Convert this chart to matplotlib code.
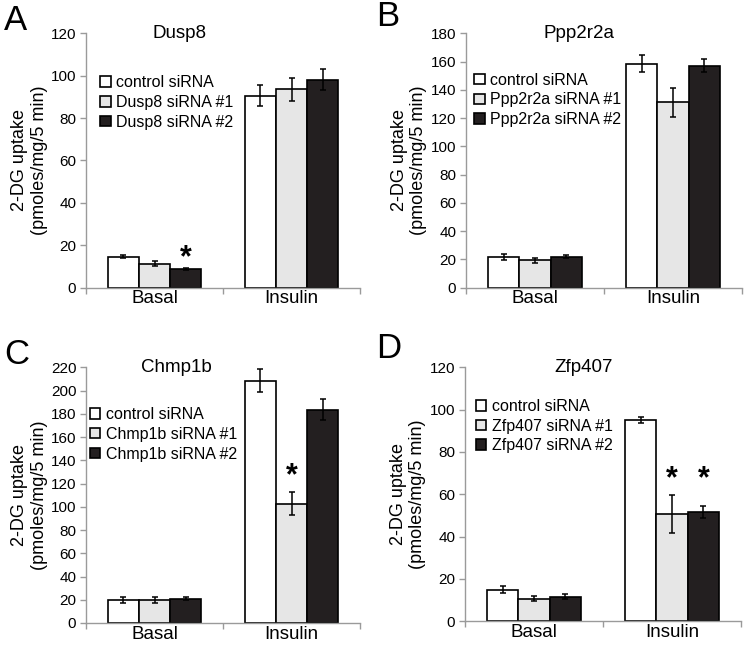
import numpy as np
import matplotlib
matplotlib.use('Agg')
import matplotlib.pyplot as plt
from matplotlib.patches import Patch

plt.rcParams['font.family'] = ['Liberation Sans', 'DejaVu Sans']

conditions = ['Basal', 'Insulin']
fills = ['white', '#e6e6e6', '#231f20']

# panel A - Dusp8
dusp8_means = [[14.5, 11.3, 8.8], [90.5, 93.5, 98.0]]
dusp8_errs = [[0.8, 1.2, 0.5], [5.0, 5.3, 5.0]]
# panel B - Ppp2r2a
ppp2r2a_means = [[21.7, 19.4, 21.7], [158.5, 131.0, 157.0]]
ppp2r2a_errs = [[2.0, 1.8, 1.0], [6.0, 10.0, 4.5]]
# panel C - Chmp1b
chmp1b_means = [[20.0, 20.0, 21.0], [208.5, 102.5, 183.5]]
chmp1b_errs = [[2.5, 2.5, 1.0], [10.0, 10.0, 9.0]]
# panel D - Zfp407
zfp407_means = [[15.0, 10.7, 11.5], [95.0, 50.7, 51.7]]
zfp407_errs = [[1.5, 1.3, 1.2], [1.5, 9.0, 3.0]]

panels = [
    ('A', 'Dusp8', dusp8_means, dusp8_errs, 120, 20, [(0, 2, 14)]),
    ('B', 'Ppp2r2a', ppp2r2a_means, ppp2r2a_errs, 180, 20, []),
    ('C', 'Chmp1b', chmp1b_means, chmp1b_errs, 220, 20, [(1, 1, 126)]),
    ('D', 'Zfp407', zfp407_means, zfp407_errs, 120, 20, [(1, 1, 67), (1, 2, 67)]),
]

# axes boxes in pixels: left, right, top, bottom
boxes = [(86, 360, 33.3, 287.5), (466, 742, 33.3, 287.5),
         (86, 360, 367.3, 623), (465, 741, 367.3, 621.3)]
title_x = [0.34, 0.41, 0.33, 0.43]
legend_pos = [(0.052, 0.836), (0.03, 0.845), (0.015, 0.845), (0.04, 0.876)]
letter_pos = [(4, 20), (376, 17), (4, 355), (376, 349)]

W, H = 744, 646
fig = plt.figure(figsize=(W / 100, H / 100), dpi=100)
spine_col = '#9a9a9a'
bw = 0.227

for k, (letter, gene, means, errs, ymax, step, stars) in enumerate(panels):
    l, r, t, b = boxes[k]
    ax = fig.add_axes([l / W, 1 - b / H, (r - l) / W, (b - t) / H])
    means = np.array(means)
    errs = np.array(errs)
    x = np.arange(len(conditions))
    labels = ['control siRNA', gene + ' siRNA #1', gene + ' siRNA #2']
    for i in range(3):
        ax.bar(x + (i - 1) * bw, means[:, i], bw, color=fills[i],
               edgecolor='black', linewidth=1.2, zorder=2)
        ax.errorbar(x + (i - 1) * bw, means[:, i], yerr=errs[:, i], fmt='none',
                    ecolor='black', elinewidth=1.1, capsize=2.5, capthick=1.1, zorder=3)
    for (g, i, y) in stars:
        ax.text(x[g] + (i - 1) * bw, y, '*', ha='center', va='center',
                fontsize=22, fontweight='bold')

    ax.set_xlim(-0.5, 1.5)
    ax.set_ylim(0, ymax)
    ax.set_yticks(np.arange(0, ymax + 1, step))
    ax.set_xticks(x)
    ax.set_xticklabels(conditions, fontsize=13.5)
    ax.set_xticks([-0.5, 0.5, 1.5], minor=True)
    ax.tick_params(axis='x', which='major', length=0, pad=2)
    ax.tick_params(axis='x', which='minor', length=4, color=spine_col, width=1)
    ax.tick_params(axis='y', length=4, color=spine_col, width=1, labelsize=11, pad=3)
    for s in ['top', 'right']:
        ax.spines[s].set_visible(False)
    for s in ['left', 'bottom']:
        ax.spines[s].set_color(spine_col)
        ax.spines[s].set_linewidth(1)

    ax.set_ylabel('2-DG uptake\n(pmoles/mg/5 min)', fontsize=13, linespacing=1.2)
    ax.yaxis.set_label_coords(-0.14, 0.5)
    ax.text(title_x[k], 1.0, gene, transform=ax.transAxes, ha='center',
            va='center', fontsize=13.5)

    handles = [Patch(facecolor=fills[i], edgecolor='black', linewidth=1.2) for i in range(3)]
    ax.legend(handles, labels, loc='upper left', bbox_to_anchor=legend_pos[k],
              frameon=False, fontsize=11.5, handlelength=0.65, handleheight=0.65,
              handletextpad=0.35, labelspacing=0.3, borderpad=0, borderaxespad=0)

    fig.text(letter_pos[k][0] / W, 1 - letter_pos[k][1] / H, letter,
             fontsize=25, ha='left', va='center')

fig.savefig('out.png', dpi=100)
